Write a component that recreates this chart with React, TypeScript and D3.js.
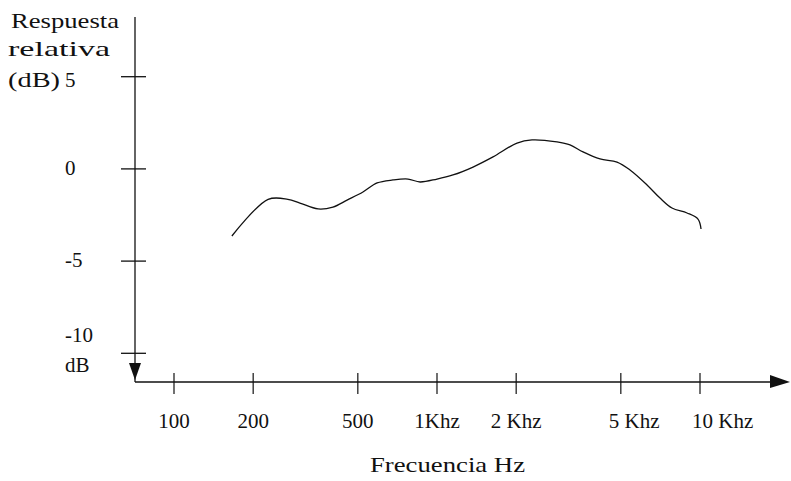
import React from "react";
import * as d3 from "d3";

// frequency response
const freqs = [166, 228, 271, 301, 353, 402, 455, 523, 592, 680, 776, 862, 1000, 1150, 1371, 1633, 2015, 2297, 2860, 3204, 3591, 4167, 4836, 5418, 6288, 7046, 7825, 8925, 9826, 10090];
const response = [-3.64, -1.65, -1.65, -1.85, -2.17, -2.07, -1.69, -1.25, -0.76, -0.6, -0.55, -0.71, -0.55, -0.33, 0.1, 0.65, 1.4, 1.57, 1.46, 1.3, 0.92, 0.54, 0.37, -0.06, -0.87, -1.58, -2.12, -2.39, -2.72, -3.26];

const xTickValues = [100, 200, 500, 1000, 2000, 5000, 10000];
const xTickLabels = ["100", "200", "500", "1Khz", "2 Khz", "5 Khz", "10 Khz"];
const yTickValues = [5, 0, -5, -10];
const yTickLabels = ["5", "0", "-5", "-10"];

const W = 791;
const H = 481;
const FONT = "'Liberation Serif', 'DejaVu Serif', serif";

export default function App() {
  const x = d3.scaleLog().domain([100, 10000]).range([174, 700]);
  const y = d3.scaleLinear().domain([-10, 5]).range([353.3, 76.7]);

  const axisX = 135;
  const axisY = 382;

  const pts = freqs.map((f, i) => [f, response[i]] as [number, number]);
  const line = d3
    .line<[number, number]>()
    .x((d) => x(d[0]))
    .y((d) => y(d[1]))
    .curve(d3.curveCatmullRom.alpha(0.5));

  return (
    <svg
      width={W}
      height={H}
      style={{ position: "absolute", left: 0, top: 0, background: "#fff" }}
      fontFamily={FONT}
      fill="#111"
    >
      {/* y axis with down arrow */}
      <line x1={axisX} x2={axisX} y1={17} y2={axisY} stroke="#111" strokeWidth={1.3} />
      <path d={`M${axisX - 6},${axisY - 19} L${axisX + 6},${axisY - 19} L${axisX},${axisY - 2} Z`} fill="#111" />
      {/* x axis with right arrow */}
      <line x1={axisX} x2={776} y1={axisY} y2={axisY} stroke="#111" strokeWidth={1.6} />
      <path d={`M770,${axisY - 7} L790,${axisY} L770,${axisY + 6} Z`} fill="#111" />

      {yTickValues.map((v, i) => (
        <g key={"yt" + v}>
          <line x1={axisX - 14} x2={axisX + 11} y1={y(v)} y2={y(v)} stroke="#111" strokeWidth={1.3} />
          <text x={65} y={y(v) + (v === -10 ? -11 : v === 5 ? 10 : 6)} fontSize={21}>
            {yTickLabels[i]}
          </text>
        </g>
      ))}

      {xTickValues.map((v, i) => {
        const px = x(v);
        const shifted = v >= 5000;
        return (
          <g key={"xt" + v}>
            <line x1={px} x2={px} y1={axisY - 9} y2={axisY + 12} stroke="#111" strokeWidth={1.2} />
            <text
              x={shifted ? px - 12 + (v === 10000 ? 4 : 0) : px}
              y={428}
              fontSize={21}
              textAnchor={shifted ? "start" : "middle"}
            >
              {xTickLabels[i]}
            </text>
          </g>
        );
      })}

      {/* labels */}
      <text x={11} y={28} fontSize={21} textLength={108} lengthAdjust="spacingAndGlyphs">Respuesta</text>
      <text x={8} y={56} fontSize={21} textLength={102} lengthAdjust="spacingAndGlyphs">relativa</text>
      <text x={8} y={87} fontSize={21} textLength={52} lengthAdjust="spacingAndGlyphs">(dB)</text>
      <text x={65} y={372} fontSize={21}>dB</text>
      <text x={370} y={472} fontSize={21} textLength={155} lengthAdjust="spacingAndGlyphs">Frecuencia Hz</text>

      <path d={line(pts) || ""} fill="none" stroke="#111" strokeWidth={1.3} />
    </svg>
  );
}
